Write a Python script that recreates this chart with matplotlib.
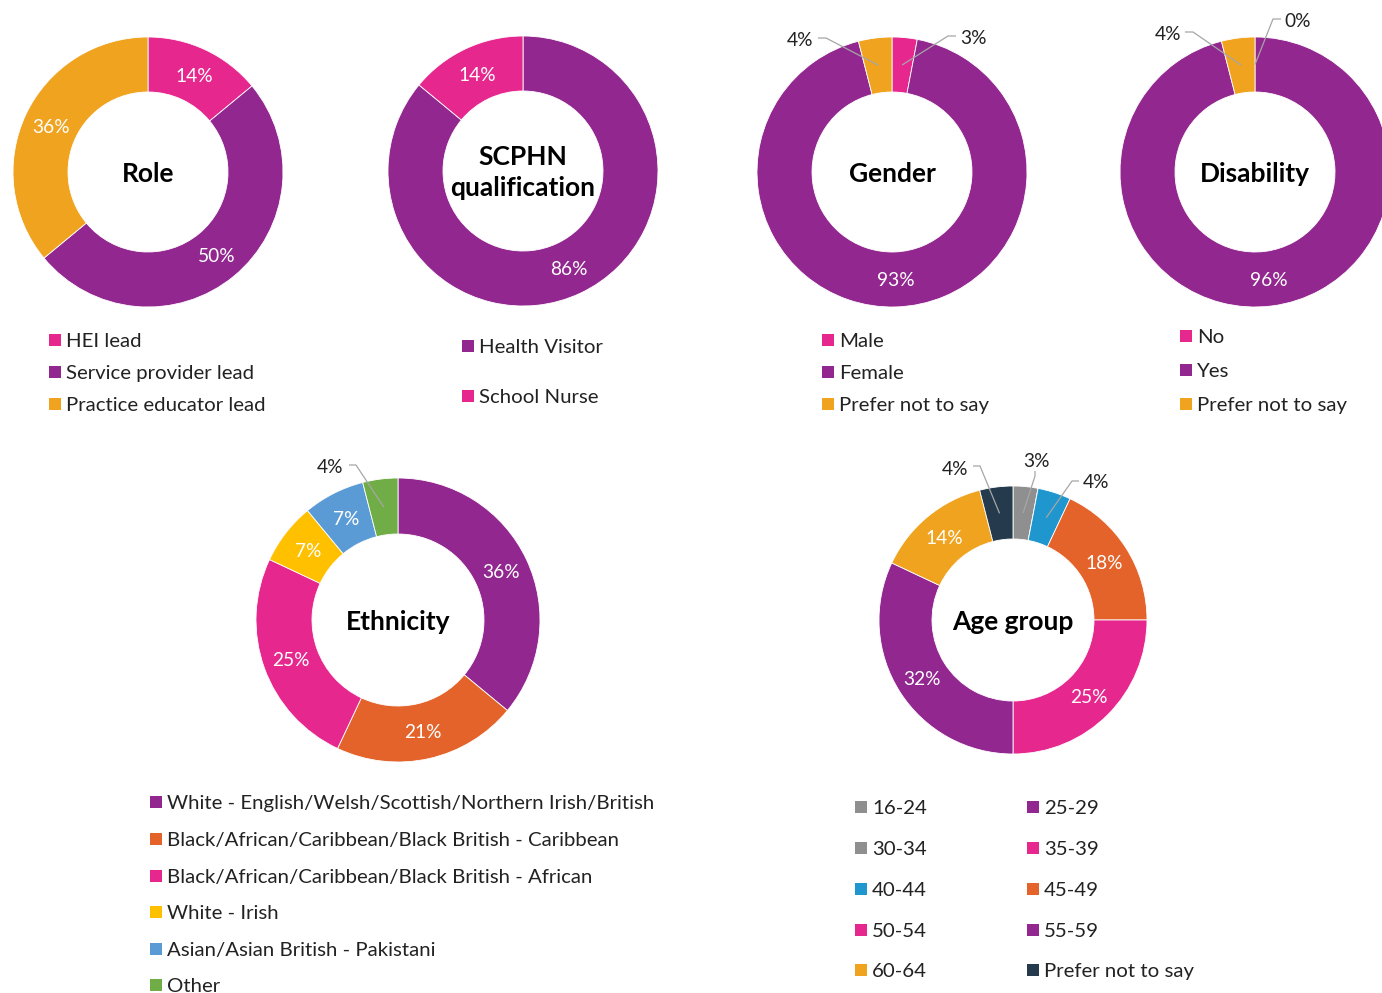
import numpy as np
import matplotlib
matplotlib.use("Agg")
import matplotlib.pyplot as plt

plt.rcParams['font.family'] = ['Lato', 'DejaVu Sans']

W, H = 1382, 993

PURPLE = '#92278F'
PINK = '#E6288E'
ORANGE = '#F0A31F'
RED_OR = '#E3632A'
YELLOW = '#FFC000'
LBLUE = '#5B9BD5'
GREEN = '#70AD47'
GREY = '#8F8F8F'
BLUE = '#1F96CD'
NAVY = '#253A4C'

# ---------------- data ----------------
role_labels = ['HEI lead', 'Service provider lead', 'Practice educator lead']
role_values = [14, 50, 36]
role_colors = [PINK, PURPLE, ORANGE]

scphn_labels = ['Health Visitor', 'School Nurse']
scphn_values = [86, 14]
scphn_colors = [PURPLE, PINK]

gender_labels = ['Male', 'Female', 'Prefer not to say']
gender_values = [3, 93, 4]
gender_colors = [PINK, PURPLE, ORANGE]

disab_labels = ['No', 'Yes', 'Prefer not to say']
disab_values = [0, 96, 4]
disab_colors = [PINK, PURPLE, ORANGE]

eth_labels = ['White - English/Welsh/Scottish/Northern Irish/British',
              'Black/African/Caribbean/Black British - Caribbean',
              'Black/African/Caribbean/Black British - African',
              'White - Irish',
              'Asian/Asian British - Pakistani',
              'Other']
eth_values = [36, 21, 25, 7, 7, 4]
eth_colors = [PURPLE, RED_OR, PINK, YELLOW, LBLUE, GREEN]

age_labels = ['16-24', '25-29', '30-34', '35-39', '40-44', '45-49',
              '50-54', '55-59', '60-64', 'Prefer not to say']
age_values = [0, 0, 3, 0, 4, 18, 25, 32, 14, 4]
age_colors = [GREY, PURPLE, GREY, PINK, BLUE, RED_OR, PINK, PURPLE, ORANGE, NAVY]

# ---------------- figure ----------------
fig = plt.figure(figsize=(W / 100, H / 100), dpi=100)
ax = fig.add_axes([0, 0, 1, 1])

DY = 1.5  # small downward nudge for text


def Y(y):
    return H - y


def donut(values, colors, cx, cy, R, w, title, title_size=19, external=None, skip_zero=True):
    ax.pie(values, colors=colors, startangle=90, counterclock=False,
           center=(cx, Y(cy)), radius=R, frame=True,
           wedgeprops=dict(width=w, edgecolor='white', linewidth=0.6))
    ax.text(cx, Y(cy + DY), title, ha='center', va='center', fontsize=title_size,
            fontweight='bold', color='black', linespacing=1.36)
    total = float(sum(values))
    cum = 0.0
    rm = R - w / 2
    external = external or {}
    for i, v in enumerate(values):
        mid = (cum + v / 2) / total * 2 * np.pi
        cum += v
        sx = cx + rm * np.sin(mid)
        sy = cy - rm * np.cos(mid)
        txt = f"{v:.0f}%"
        if i in external:
            (ex, ey), (tx, ty), (lx, ly, ha) = external[i]
            ax.plot([sx, ex, tx], [Y(sy), Y(ey), Y(ty)], color='#A6A6A6', lw=0.9,
                    solid_capstyle='butt')
            ax.text(lx, Y(ly + DY), txt, ha=ha, va='center', fontsize=13.8, color='#222222')
        elif v == 0 and skip_zero:
            continue
        else:
            ax.text(sx, Y(sy + DY), txt, ha='center', va='center', fontsize=13.8, color='white')


def legend_rows(labels, colors, x, ys, fs=14.7):
    for lab, col, y in zip(labels, colors, ys):
        ax.scatter([x], [Y(y)], marker='s', s=75, color=col, linewidths=0)
        ax.text(x + 11, Y(y + DY), lab, ha='left', va='center', fontsize=fs, color='#222222')


# Role
donut(role_values, role_colors, 148, 172, 135, 55, 'Role')
legend_rows(role_labels, role_colors, 55, [340, 372, 404])

# SCPHN
donut(scphn_values, scphn_colors, 523, 171, 135, 55, 'SCPHN\nqualification')
legend_rows(scphn_labels, scphn_colors, 468, [346, 396])

# Gender
donut(gender_values, gender_colors, 892, 172, 135, 55, 'Gender',
      external={0: ((948, 36), (956, 36), (960, 37, 'left')),
                2: ((826, 38), (818, 38), (813, 39, 'right'))})
legend_rows(gender_labels, gender_colors, 828, [340, 372, 404])

# Disability
donut(disab_values, disab_colors, 1255, 172, 135, 55, 'Disability',
      external={0: ((1273, 19), (1281, 19), (1284, 20, 'left')),
                2: ((1193, 32), (1185, 32), (1181, 33, 'right'))})
legend_rows(disab_labels, disab_colors, 1186, [336, 370, 404])

# Ethnicity
donut(eth_values, eth_colors, 398, 620, 142, 56, 'Ethnicity',
      external={5: ((356, 465), (349, 465), (343, 466, 'right'))})
legend_rows(eth_labels, eth_colors, 156, [802, 839, 876, 912, 949, 985])

# Age group
donut(age_values, age_colors, 1013, 620, 134, 53, 'Age group',
      external={2: ((1035, 476), (1035, 471), (1036, 460, 'center')),
                4: ((1072, 481), (1079, 481), (1083, 481, 'left')),
                9: ((980, 466), (973, 466), (968, 468, 'right'))})
legend_rows(age_labels[0::2], age_colors[0::2], 861, [807, 848, 889, 930, 970])
legend_rows(age_labels[1::2], age_colors[1::2], 1033, [807, 848, 889, 930, 970])

ax.set_xlim(0, W)
ax.set_ylim(0, H)
ax.set_aspect('equal')
ax.axis('off')

fig.savefig('out.png', dpi=100)
